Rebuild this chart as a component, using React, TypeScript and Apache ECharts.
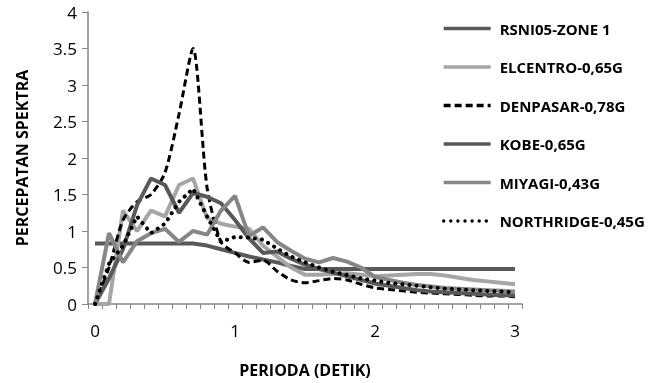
import React, { useEffect, useRef } from "react";
import * as echarts from "echarts";

const periods = ["0","0.1","0.2","0.3","0.4","0.5","0.6","0.7","0.8","0.9","1","1.1","1.2","1.3","1.4","1.5","1.6","1.7","1.8","1.9","2","2.1","2.2","2.3","2.4","2.5","2.6","2.7","2.8","2.9","3"];

const rsni = [0.83,0.83,0.83,0.83,0.83,0.83,0.83,0.83,0.8,0.75,0.7,0.65,0.61,0.57,0.52,0.48,0.48,0.48,0.48,0.48,0.48,0.48,0.48,0.48,0.48,0.48,0.48,0.48,0.48,0.48,0.48];
const elcentro = [0,0,1.28,1.0,1.28,1.2,1.63,1.72,1.18,1.1,1.06,1.03,0.8,0.65,0.5,0.4,0.4,0.41,0.42,0.4,0.38,0.39,0.4,0.41,0.41,0.39,0.36,0.33,0.31,0.29,0.27];
const denpasar = [0,0.5,1.15,1.4,1.5,1.8,2.6,3.5,1.6,0.85,0.7,0.57,0.6,0.45,0.33,0.29,0.32,0.35,0.33,0.27,0.22,0.2,0.18,0.16,0.15,0.14,0.13,0.12,0.11,0.11,0.1];
const kobe = [0,0.35,0.75,1.35,1.72,1.63,1.25,1.52,1.47,1.38,1.15,0.9,0.7,0.72,0.62,0.54,0.48,0.43,0.38,0.33,0.28,0.25,0.22,0.19,0.17,0.16,0.15,0.14,0.13,0.12,0.12];
const miyagi = [0,0.97,0.57,0.86,0.97,1.03,0.85,1.0,0.95,1.28,1.48,0.93,1.05,0.85,0.73,0.62,0.57,0.63,0.58,0.5,0.37,0.33,0.29,0.26,0.24,0.22,0.21,0.2,0.19,0.18,0.17];
const northridge = [0,0.55,0.8,1.2,0.97,1.1,1.4,1.58,1.2,0.85,0.92,0.91,0.88,0.76,0.65,0.57,0.5,0.44,0.4,0.35,0.32,0.29,0.27,0.25,0.23,0.21,0.2,0.19,0.18,0.17,0.16];

const seriesNames = ["RSNI05-ZONE 1","ELCENTRO-0,65G","DENPASAR-0,78G","KOBE-0,65G","MIYAGI-0,43G","NORTHRIDGE-0,45G"];

const FONT = "'Open Sans', sans-serif";

export default function App() {
  const ref = useRef<HTMLDivElement>(null);
  useEffect(() => {
    if (!ref.current) return;
    const chart = echarts.init(ref.current, undefined, { renderer: "svg" });
    const mk = (name: string, data: number[], color: string, width: number, type: any, extra: any = {}) => ({
      name,
      type: "line",
      data,
      symbol: "none",
      showSymbol: false,
      lineStyle: { color, width, type, ...extra },
      itemStyle: { color },
    });
    chart.setOption({
      animation: false,
      textStyle: { fontFamily: FONT },
      grid: { left: 88, top: 12, right: 134, bottom: 76 },
      legend: {
        orient: "vertical",
        left: 437,
        top: 16,
        itemWidth: 47,
        itemHeight: 18,
        itemGap: 23.5,
        itemStyle: { opacity: 0 },
        lineStyle: { width: 3.3 },
        textStyle: { fontFamily: FONT, fontWeight: "bold", fontSize: 15, color: "#000", padding: [0, 0, 0, 4] },
        data: seriesNames,
      },
      xAxis: {
        type: "category",
        data: periods,
        boundaryGap: true,
        name: "PERIODA (DETIK)",
        nameLocation: "middle",
        nameGap: 58,
        nameTextStyle: { fontFamily: FONT, fontWeight: "bold", fontSize: 16, color: "#000" },
        axisLine: { lineStyle: { color: "#868686", width: 1.5 } },
        axisTick: { show: true, interval: 0, alignWithLabel: false, length: 5, lineStyle: { color: "#868686" } },
        axisLabel: { interval: 9, fontSize: 17, color: "#000", margin: 18, fontFamily: FONT },
        splitLine: { show: false },
      },
      yAxis: {
        type: "value",
        min: 0,
        max: 4,
        interval: 0.5,
        name: "PERCEPATAN SPEKTRA",
        nameLocation: "middle",
        nameGap: 58,
        nameTextStyle: { fontFamily: FONT, fontWeight: "bold", fontSize: 16, color: "#000" },
        axisLine: { show: true, lineStyle: { color: "#868686", width: 1.5 } },
        axisTick: { show: true, length: 6, lineStyle: { color: "#868686" } },
        axisLabel: { fontSize: 17, color: "#000", margin: 11, fontFamily: FONT },
        splitLine: { show: false },
      },
      series: [
        mk(seriesNames[0], rsni, "#595959", 4, "solid"),
        mk(seriesNames[1], elcentro, "#a6a6a6", 4, "solid"),
        { ...mk(seriesNames[2], denpasar, "#000000", 3, [7, 4]), smooth: 0.25 },
        mk(seriesNames[3], kobe, "#595959", 4, "solid"),
        mk(seriesNames[4], miyagi, "#868686", 4, "solid"),
        mk(seriesNames[5], northridge, "#000000", 4, [0.1, 7], { cap: "round" }),
      ],
    });
    return () => chart.dispose();
  }, []);
  return <div ref={ref} style={{ position: "fixed", left: 0, top: 0, width: 656, height: 383 }} />;
}
